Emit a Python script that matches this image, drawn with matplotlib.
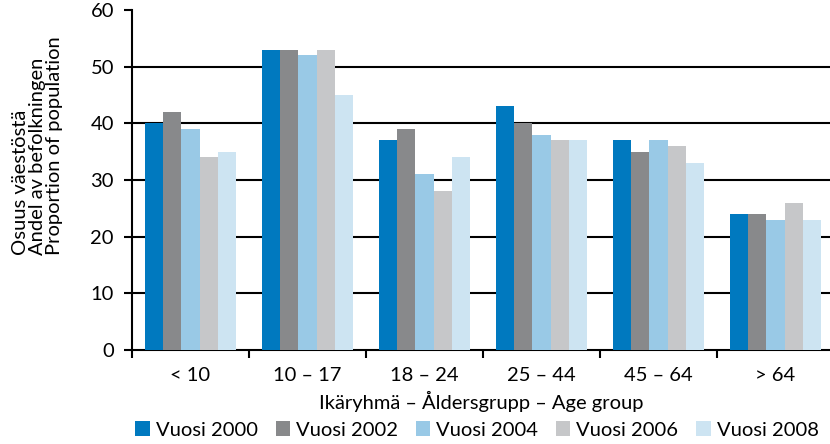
import numpy as np
import matplotlib
matplotlib.use("Agg")
import matplotlib.pyplot as plt

FONT = "Lato"
FONT_SIZE = 14.5

age_groups = ["< 10", "10 – 17", "18 – 24", "25 – 44", "45 – 64", "> 64"]
years = ["Vuosi 2000", "Vuosi 2002", "Vuosi 2004", "Vuosi 2006", "Vuosi 2008"]
share_2000 = [40, 53, 37, 43, 37, 24]
share_2002 = [42, 53, 39, 40, 35, 24]
share_2004 = [39, 52, 31, 38, 37, 23]
share_2006 = [34, 53, 28, 37, 36, 26]
share_2008 = [35, 45, 34, 37, 33, 23]
colors = ["#0079bf", "#88898b", "#99c9e6", "#c6c7c9", "#cde4f2"]

plt.rcParams.update({"font.family": FONT, "font.size": FONT_SIZE})

fig = plt.figure(figsize=(8.3, 4.44), dpi=100)
# axes spans a bit past the right edge, like the original
ax = fig.add_axes([132 / 830, 94 / 444, 702 / 830, 340 / 444])

x = np.arange(len(age_groups))
w = 0.154
series = [share_2000, share_2002, share_2004, share_2006, share_2008]
for j, vals in enumerate(series):
    ax.bar(x + (j - 2) * w, vals, width=w, color=colors[j], label=years[j],
           zorder=3, linewidth=0)

ax.set_xlim(-0.5, 5.5)
ax.set_ylim(0, 60)
ax.set_yticks(range(0, 61, 10))
for yv in range(10, 51, 10):
    ax.axhline(yv, color="black", linewidth=1.5, zorder=1)

ax.set_xticks(x)
ax.set_xticklabels(age_groups)
ax.set_xticks(np.arange(-0.5, 6, 1), minor=True)
ax.tick_params(axis="x", which="major", length=0, pad=12)
ax.tick_params(axis="x", which="minor", length=6, width=1.5, direction="out")
ax.tick_params(axis="y", length=6, width=1.5, pad=7)

for side in ["top", "right"]:
    ax.spines[side].set_visible(False)
ax.spines["left"].set_linewidth(1.5)
ax.spines["bottom"].set_linewidth(1.5)

fig.text(0.5 * (132 + 830) / 830, 1 - 401 / 444, "Ikäryhmä – Åldersgrupp – Age group",
         ha="center", va="center")
fig.text(38 / 830, 1 - 255 / 444,
         "Osuus väestöstä\nAndel av befolkningen\nProportion of population",
         rotation=90, ha="center", va="bottom", multialignment="left",
         linespacing=1.0)

fig.legend(loc="center", bbox_to_anchor=(477 / 830, 1 - 430 / 444), ncol=5,
           frameon=False, handlelength=0.7, handleheight=0.7,
           handletextpad=0.3, columnspacing=0.9, borderpad=0)

fig.savefig("out.png", dpi=100)
